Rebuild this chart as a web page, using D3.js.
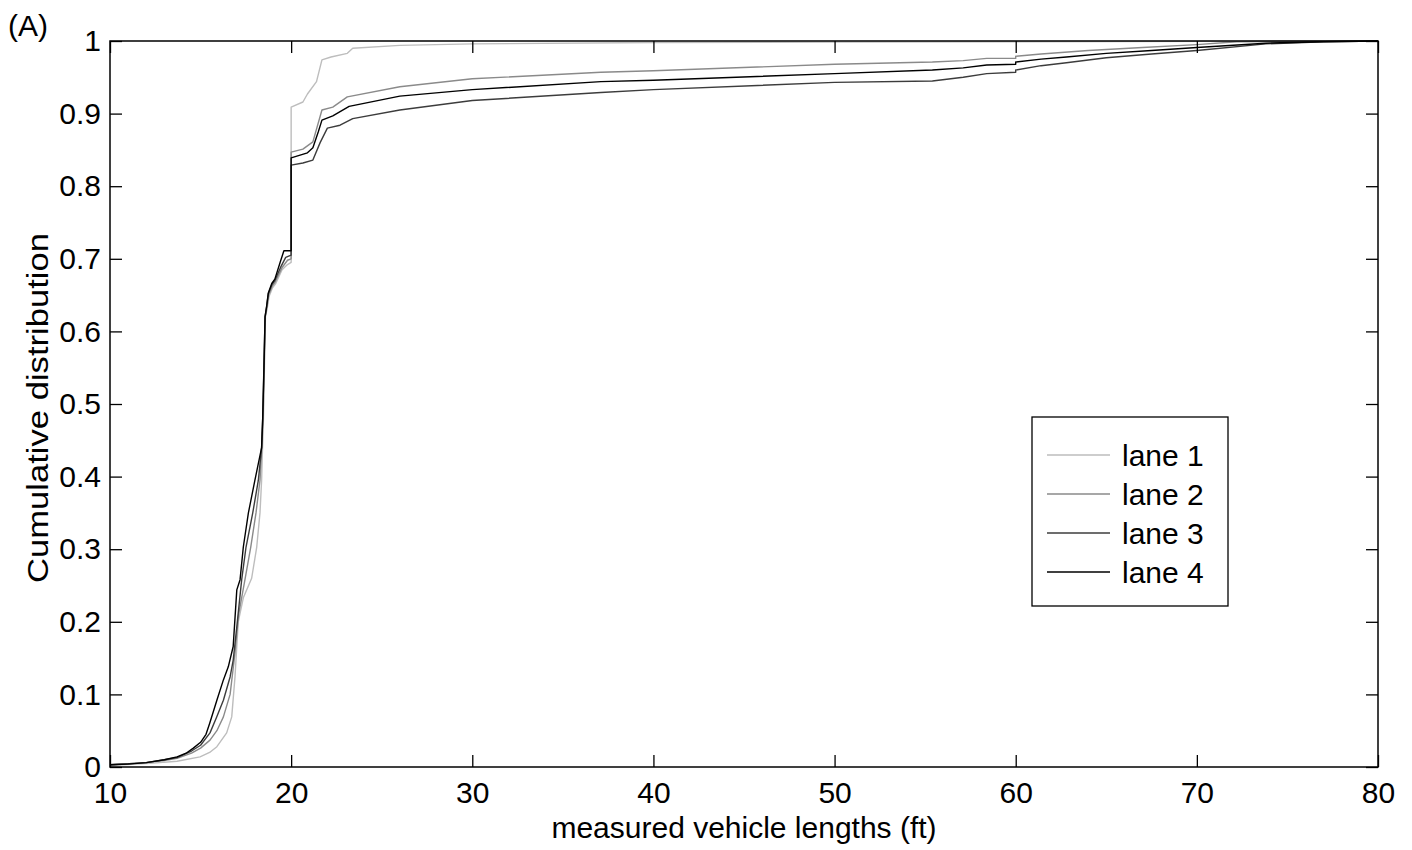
<!DOCTYPE html>
<html>
<head>
<meta charset="utf-8">
<script src="https://cdn.jsdelivr.net/npm/d3@7"></script>
<style>
  body { margin: 0; background: #fff; }
  svg text { font-family: "Liberation Sans", Arial, sans-serif; fill: #000; }
</style>
</head>
<body>
<div id="chart"></div>
<script>
// Lane CDFs (length in ft, cumulative share)
const lane1Len = [10, 12.2, 13.7, 14.97, 15.5, 15.9, 16.44, 16.72, 16.9, 17.08, 17.36, 17.82, 18.1, 18.28, 18.37, 18.42, 18.47, 18.58, 18.68, 18.78, 18.97, 19.15, 19.5, 19.8, 20, 20, 20.65, 20.9, 21.4, 21.7, 22.2, 23.1, 23.4, 26, 30, 40, 50, 60, 72, 80];
const lane1Cdf = [0.002, 0.005, 0.008, 0.014, 0.02, 0.028, 0.047, 0.069, 0.124, 0.2, 0.233, 0.26, 0.303, 0.35, 0.395, 0.44, 0.48, 0.62, 0.632, 0.648, 0.66, 0.666, 0.685, 0.692, 0.695, 0.909, 0.916, 0.927, 0.944, 0.974, 0.978, 0.983, 0.99, 0.994, 0.996, 0.998, 0.9985, 0.999, 0.9995, 1.0];

const lane2Len = [10, 12, 13, 13.7, 14.5, 15.0, 15.52, 15.9, 16.26, 16.63, 16.9, 17.1, 17.45, 17.77, 18.06, 18.28, 18.38, 18.45, 18.57, 18.66, 18.76, 18.95, 19.12, 19.5, 19.8, 20, 20, 20.65, 21.2, 21.7, 22.3, 23.1, 26, 30, 37.1, 40, 50, 55.4, 57.1, 58.4, 60, 60, 61.4, 64, 67, 70, 72.2, 80];
const lane2Cdf = [0.003, 0.006, 0.009, 0.012, 0.019, 0.026, 0.037, 0.05, 0.069, 0.1, 0.157, 0.21, 0.258, 0.303, 0.35, 0.395, 0.44, 0.48, 0.62, 0.633, 0.65, 0.662, 0.668, 0.688, 0.698, 0.70, 0.847, 0.851, 0.861, 0.905, 0.909, 0.923, 0.937, 0.948, 0.957, 0.959, 0.968, 0.971, 0.973, 0.976, 0.976, 0.979, 0.982, 0.987, 0.991, 0.995, 0.999, 1.0];

const lane3Len = [10, 12, 13, 13.7, 14.5, 15.0, 15.52, 15.89, 16.26, 16.63, 16.8, 17.0, 17.27, 17.51, 17.88, 18.19, 18.37, 18.43, 18.56, 18.65, 18.74, 18.93, 19.1, 19.45, 19.7, 20, 20, 20.65, 21.2, 21.6, 22.0, 22.7, 23.4, 26, 30, 37.1, 40, 50, 55.4, 57.1, 58.4, 60, 60, 61.4, 62.8, 65, 67.5, 70, 73.8, 77, 80];
const lane3Cdf = [0.003, 0.006, 0.010, 0.013, 0.022, 0.03, 0.047, 0.069, 0.092, 0.124, 0.147, 0.193, 0.258, 0.303, 0.35, 0.395, 0.44, 0.48, 0.62, 0.635, 0.652, 0.664, 0.67, 0.69, 0.702, 0.705, 0.829, 0.832, 0.836, 0.86, 0.88, 0.884, 0.893, 0.905, 0.918, 0.929, 0.933, 0.943, 0.945, 0.95, 0.955, 0.957, 0.96, 0.966, 0.97, 0.977, 0.982, 0.987, 0.996, 0.999, 1.0];

const lane4Len = [10, 11, 12, 13, 13.7, 14.2, 14.6, 15.0, 15.3, 15.5, 15.9, 16.26, 16.53, 16.8, 17.0, 17.18, 17.36, 17.64, 18.0, 18.37, 18.43, 18.5, 18.56, 18.65, 18.74, 18.93, 19.1, 19.39, 19.6, 20, 20, 20.9, 21.2, 21.5, 21.7, 22.3, 23.2, 26, 30, 37.1, 40, 50, 55.4, 57.1, 58.4, 60, 60, 61.4, 62.8, 65, 67.5, 70, 73.8, 77, 80];
const lane4Cdf = [0.003, 0.004, 0.006, 0.010, 0.014, 0.019, 0.026, 0.034, 0.045, 0.06, 0.092, 0.12, 0.138, 0.166, 0.244, 0.258, 0.303, 0.35, 0.395, 0.44, 0.48, 0.55, 0.62, 0.635, 0.653, 0.666, 0.672, 0.695, 0.711, 0.711, 0.839, 0.846, 0.853, 0.875, 0.891, 0.897, 0.91, 0.924, 0.933, 0.944, 0.946, 0.955, 0.96, 0.963, 0.967, 0.968, 0.971, 0.975, 0.978, 0.983, 0.987, 0.991, 0.997, 0.999, 1.0];

const laneNames = ["lane 1", "lane 2", "lane 3", "lane 4"];
const laneColors = ["#bdbdbd", "#8a8a8a", "#3c3c3c", "#000000"];
const xTicks = [10, 20, 30, 40, 50, 60, 70, 80];
const yTicks = [0, 0.1, 0.2, 0.3, 0.4, 0.5, 0.6, 0.7, 0.8, 0.9, 1];

const lanes = [
  [lane1Len, lane1Cdf],
  [lane2Len, lane2Cdf],
  [lane3Len, lane3Cdf],
  [lane4Len, lane4Cdf]
].map(([xs, ys], i) => ({ name: laneNames[i], color: laneColors[i], pts: xs.map((x, j) => [x, ys[j]]) }));

// plot frame
const margin = { top: 41, right: 34, bottom: 83, left: 110 };
const W = 1412, H = 850;
const width = W - margin.left - margin.right;
const height = H - margin.top - margin.bottom;

const svg = d3.select("#chart").append("svg")
    .attr("width", W)
    .attr("height", H);

const g = svg.append("g")
    .attr("transform", `translate(${margin.left},${margin.top})`);

const x = d3.scaleLinear().domain([10, 80]).range([0, width]);
const y = d3.scaleLinear().domain([0, 1]).range([height, 0]);

const fmtY = d => d === 0 ? "0" : d === 1 ? "1" : d3.format(".1f")(d);
const tickLen = 12;

// curves
const line = d3.line().x(d => x(d[0])).y(d => y(d[1]));
g.selectAll(".lane")
  .data(lanes)
  .enter()
  .append("path")
  .attr("class", "lane")
  .attr("d", d => line(d.pts))
  .attr("fill", "none")
  .attr("stroke", d => d.color)
  .attr("stroke-width", 1.4)
  .attr("stroke-linejoin", "round");

// axes (ticks inward, mirrored on top/right)
const styleAxis = sel => {
  sel.select(".domain").remove();
  sel.selectAll(".tick line").attr("stroke", "#000").attr("stroke-width", 1.3);
  sel.selectAll("text").style("font-size", "30px").style("font-family", "Liberation Sans, Arial, sans-serif");
};

g.append("g")
  .attr("transform", `translate(0,${height})`)
  .call(d3.axisBottom(x).tickValues(xTicks).tickSizeInner(-tickLen).tickSizeOuter(0).tickPadding(15).tickFormat(d3.format("d")))
  .call(styleAxis);

g.append("g")
  .call(d3.axisTop(x).tickValues(xTicks).tickSizeInner(-tickLen).tickSizeOuter(0).tickFormat(""))
  .call(styleAxis);

g.append("g")
  .call(d3.axisLeft(y).tickValues(yTicks).tickSizeInner(-tickLen).tickSizeOuter(0).tickPadding(9).tickFormat(fmtY))
  .call(styleAxis);

g.append("g")
  .attr("transform", `translate(${width},0)`)
  .call(d3.axisRight(y).tickValues(yTicks).tickSizeInner(-tickLen).tickSizeOuter(0).tickFormat(""))
  .call(styleAxis);

g.append("rect")
  .attr("width", width)
  .attr("height", height)
  .attr("fill", "none")
  .attr("stroke", "#000")
  .attr("stroke-width", 1.5);

// axis titles
svg.append("text")
  .attr("x", margin.left + width / 2)
  .attr("y", 838)
  .attr("text-anchor", "middle")
  .style("font-size", "30px")
  .text("measured vehicle lengths (ft)");

svg.append("text")
  .attr("transform", "translate(48,408) rotate(-90)")
  .attr("text-anchor", "middle")
  .attr("textLength", 350)
  .attr("lengthAdjust", "spacingAndGlyphs")
  .style("font-size", "29px")
  .text("Cumulative distribution");

svg.append("text")
  .attr("x", 8)
  .attr("y", 36)
  .style("font-size", "30px")
  .text("(A)");

// legend
const lg = svg.append("g").attr("transform", "translate(1032,417)");
lg.append("rect")
  .attr("width", 196)
  .attr("height", 189)
  .attr("fill", "#fff")
  .attr("stroke", "#000")
  .attr("stroke-width", 1.3);

const item = lg.selectAll(".item")
  .data(lanes)
  .enter()
  .append("g")
  .attr("transform", (d, i) => `translate(0,${38 + i * 39})`);

item.append("line")
  .attr("x1", 15).attr("x2", 78)
  .attr("stroke", d => d.color)
  .attr("stroke-width", 1.4);

item.append("text")
  .attr("x", 90)
  .attr("dy", "0.35em")
  .style("font-size", "30px")
  .text(d => d.name);
</script>
</body>
</html>
